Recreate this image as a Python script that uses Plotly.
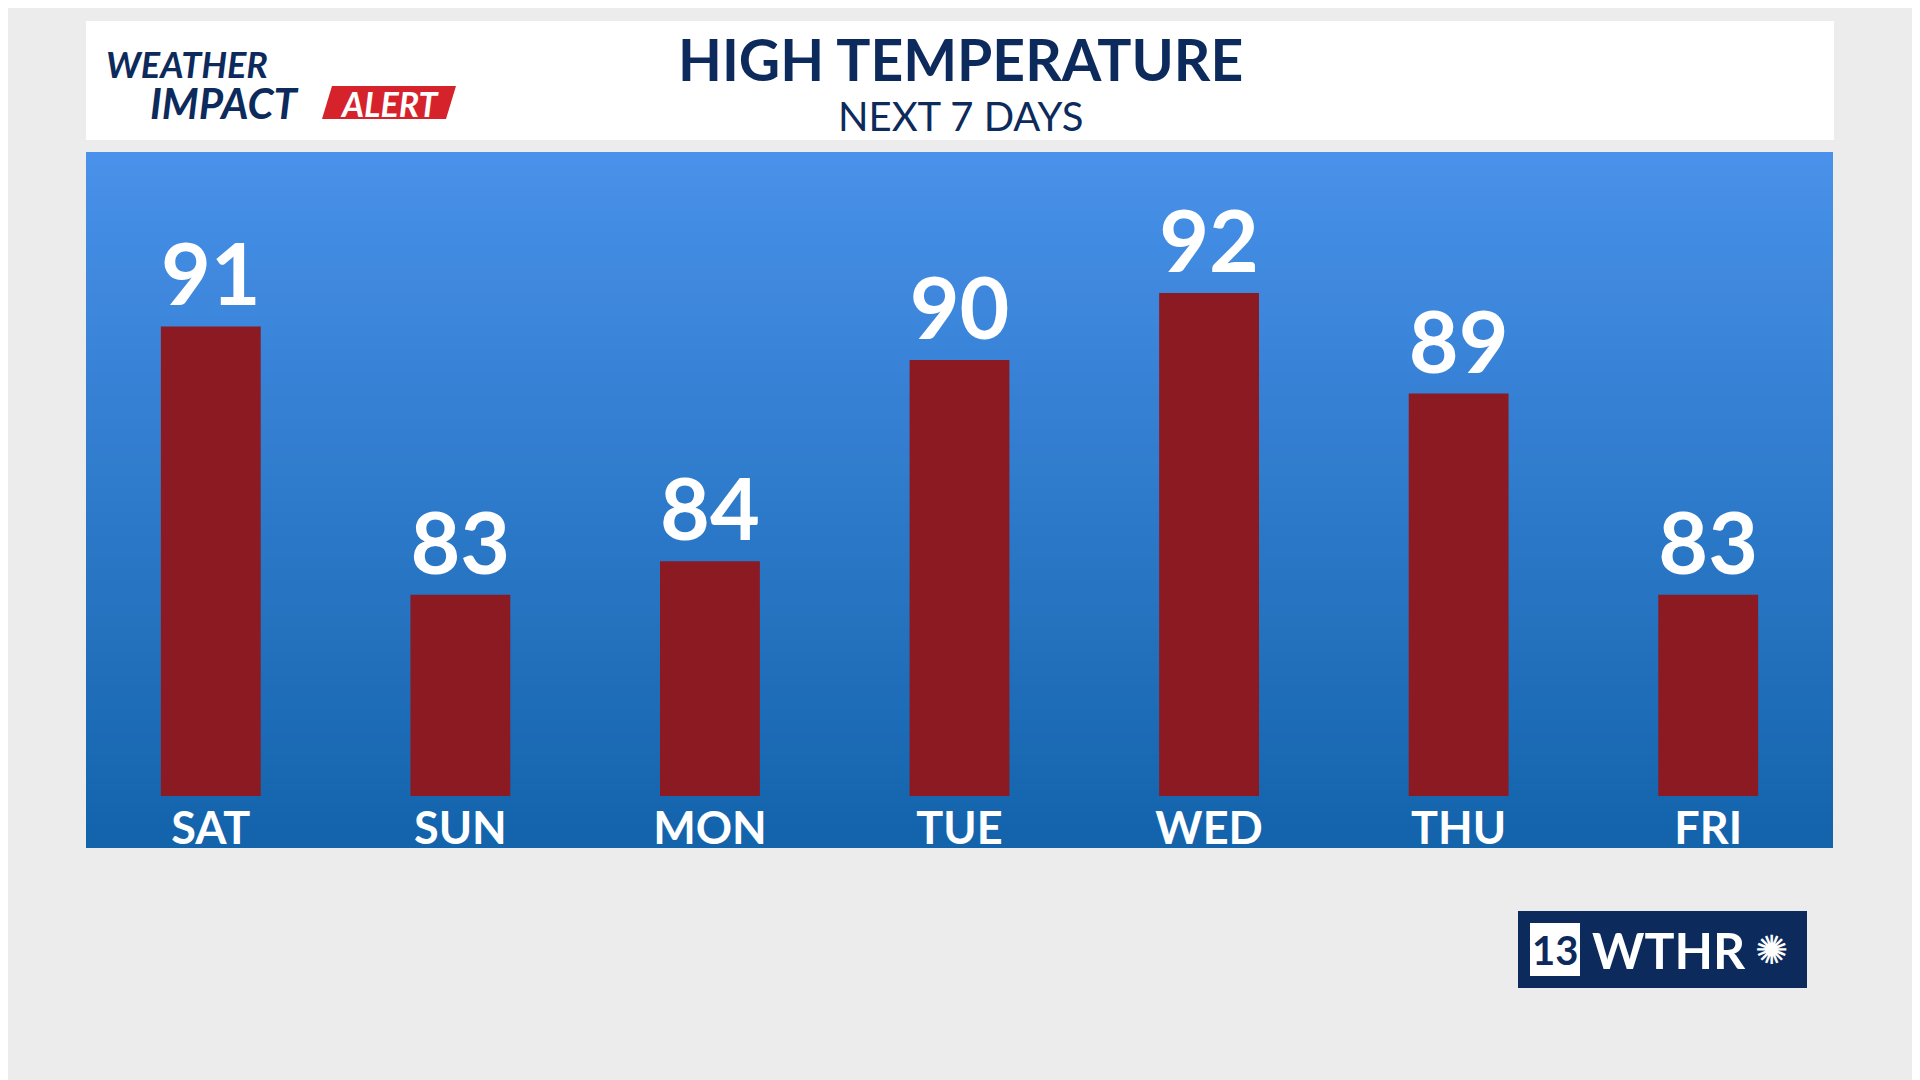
import plotly.graph_objects as go

days = ["SAT", "SUN", "MON", "TUE", "WED", "THU", "FRI"]
highs = [91, 83, 84, 90, 92, 89, 83]

W, H = 1920, 1080
OFF = 8  # compensate page margin
def px(x): return (x - OFF) / W
def py(y): return 1 - (y - OFF) / H

fig = go.Figure(go.Bar(
    x=days, y=highs, width=0.4, marker=dict(color="#8b1a22", line=dict(width=0)),
    text=[str(v) for v in highs], textposition="outside", cliponaxis=False,
    textfont=dict(family="Lato", size=86, color="white", weight="bold"),
))

shapes = []
shapes.append(dict(type="rect", xref="paper", yref="paper", x0=0, x1=1, y0=0, y1=1,
                   fillcolor="#ececec", line_width=0, layer="below"))
top, bot = 152, 848
n = 60
c0, c1 = (73, 145, 234), (20, 100, 172)
for i in range(n):
    t = i / (n - 1)
    c = tuple(int(c0[k] + (c1[k] - c0[k]) * t) for k in range(3))
    y0 = top + (bot - top) * i / n
    y1 = top + (bot - top) * (i + 1) / n + 1
    shapes.append(dict(type="rect", xref="paper", yref="paper", x0=px(86), x1=px(1833),
                       y0=py(min(y1, bot)), y1=py(y0), fillcolor="rgb(%d,%d,%d)" % c, line_width=0, layer="below"))
shapes.append(dict(type="rect", xref="paper", yref="paper", x0=px(86), x1=px(1834),
                   y0=py(140), y1=py(21), fillcolor="white", line_width=0, layer="below"))
shapes.append(dict(type="path", xref="paper", yref="paper",
                   path="M %f %f L %f %f L %f %f L %f %f Z" % (px(332), py(86), px(456), py(86), px(446), py(119), px(322), py(119)),
                   fillcolor="#d6232b", line_width=0, layer="below"))
shapes.append(dict(type="rect", xref="paper", yref="paper", x0=px(1518), x1=px(1807),
                   y0=py(988), y1=py(911), fillcolor="#0d2a5c", line_width=0, layer="below"))
shapes.append(dict(type="rect", xref="paper", yref="paper", x0=px(1530), x1=px(1580),
                   y0=py(976), y1=py(923), fillcolor="white", line_width=0, layer="below"))

navy = "#0d2a5c"
ann = [
    dict(text="HIGH TEMPERATURE", x=px(960), y=py(59), xanchor="center", font=dict(family="Lato", size=57, color=navy, weight="bold")),
    dict(text="NEXT 7 DAYS", x=px(960), y=py(116), xanchor="center", font=dict(family="Lato", size=40, color=navy)),
    dict(text="WEATHER", x=px(104), y=py(64), xanchor="left", font=dict(family="Lato", size=36, color=navy, weight="bold", style="italic")),
    dict(text="IMPACT", x=px(148), y=py(103), xanchor="left", font=dict(family="Lato", size=42, color=navy, weight="bold", style="italic")),
    dict(text="ALERT", x=px(389), y=py(103), xanchor="center", font=dict(family="Lato", size=34, color="white", weight="bold", style="italic")),
    dict(text="13", x=px(1555), y=py(950), xanchor="center", font=dict(family="Lato", size=40, color=navy, weight="bold")),
    dict(text="WTHR", x=px(1590), y=py(950), xanchor="left", font=dict(family="Lato", size=50, color="white", weight="bold")),
    dict(text="✺", x=px(1772), y=py(950), xanchor="center", font=dict(family="DejaVu Sans", size=40, color="white")),
]
for a in ann:
    a.update(xref="paper", yref="paper", showarrow=False, yanchor="middle")

fig.update_layout(
    width=W, height=H, margin=dict(l=0, r=0, t=0, b=0),
    paper_bgcolor="#ececec", plot_bgcolor="rgba(0,0,0,0)",
    shapes=shapes, annotations=ann, showlegend=False,
    xaxis=dict(domain=[px(86), px(1833)], showgrid=False, zeroline=False, showline=False,
               tickfont=dict(family="Lato", size=45, color="white", weight="bold"), ticklabelstandoff=2),
    yaxis=dict(domain=[py(796), py(152)], range=[77, 96.2], visible=False, showgrid=False),
)
fig.write_html("out.html")
